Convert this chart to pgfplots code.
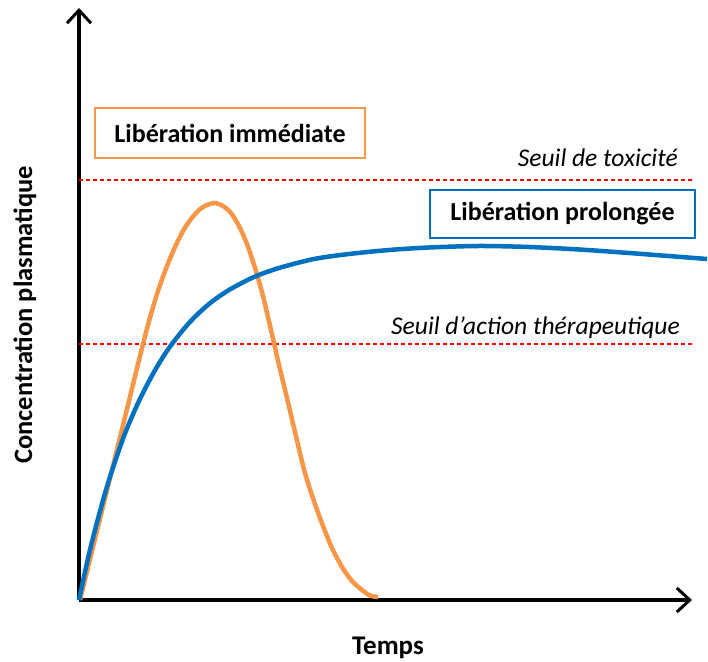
\documentclass[border=0pt]{standalone}
\usepackage{pgfplots}
\pgfplotsset{compat=1.18}
\usepackage{fontspec}
\setmainfont{Carlito}
\usetikzlibrary{arrows.meta}
\definecolor{xorange}{RGB}{247,150,70}
\definecolor{xblue}{RGB}{0,112,192}
\begin{document}
\begin{tikzpicture}
\begin{axis}[
  width=613pt, height=592pt, scale only axis,
  xmin=0, xmax=613, ymin=0, ymax=592,
  axis lines*=left,
  axis line style={line width=3.5pt, -{Straight Barb[length=13pt,width=24pt,line width=3pt]}},
  xtick=\empty, ytick=\empty,
  clip=false,
]
\addplot[draw=red, line width=1.1pt, dash pattern=on 4pt off 3pt] coordinates {(0,420) (613,420)};
\addplot[draw=red, line width=1.1pt, dash pattern=on 4pt off 3pt] coordinates {(0,256) (613,256)};
\addplot[xorange, line width=4.5pt, smooth] coordinates {
(1,0) (16,61) (32,126) (48,191) (64,256) (72,286) (80,312) (88,334) (96,353) (104,369) (112,381) (120,390) (128,395) (136,397) (144,394) (152,387) (160,374) (168,356) (176,332) (184,304) (192,270) (200,235) (208,202) (216,168) (226,127) (236,96) (244,74) (253,52) (263,33) (273,19) (283,10) (291,4.5) (299,3)};
\addplot[xblue, line width=4.5pt, smooth] coordinates {
(0,0) (10,46) (20,85) (30,120) (45,164) (60,199) (75,228) (90,252) (110,277) (130,296) (150,310) (175,323) (200,332) (235,341) (270,346) (310,350) (350,352.5) (400,354) (450,353) (500,350.5) (550,347) (628,341)};
\node[draw=xorange, line width=2pt, fill=white, minimum width=270pt, minimum height=50pt, inner sep=0pt, font=\fontsize{26}{30}\selectfont\bfseries] at (axis cs:151,467) {Libération immédiate};
\node[draw=xblue, line width=2pt, fill=white, minimum width=265pt, minimum height=48pt, inner sep=0pt, font=\fontsize{26}{30}\selectfont\bfseries] at (axis cs:483.5,386) {Libération prolongée};
\node[anchor=east, inner sep=0pt, font=\fontsize{25.5}{29}\selectfont\itshape] at (axis cs:599,442) {Seuil de toxicité};
\node[anchor=east, inner sep=0pt, font=\fontsize{25.5}{29}\selectfont\itshape] at (axis cs:601,272) {Seuil d’action thérapeutique};
\node[rotate=90, inner sep=0pt, font=\fontsize{26.5}{30}\selectfont\bfseries] at (axis cs:-54,285) {Concentration plasmatique};
\node[inner sep=0pt, font=\fontsize{27}{30}\selectfont\bfseries] at (axis cs:309,-48) {Temps};
\coordinate (bl) at (axis cs:-79,-61);
\coordinate (tr) at (axis cs:629,600);
\end{axis}
\pgfresetboundingbox
\path (bl) rectangle (tr);
\end{tikzpicture}
\end{document}
